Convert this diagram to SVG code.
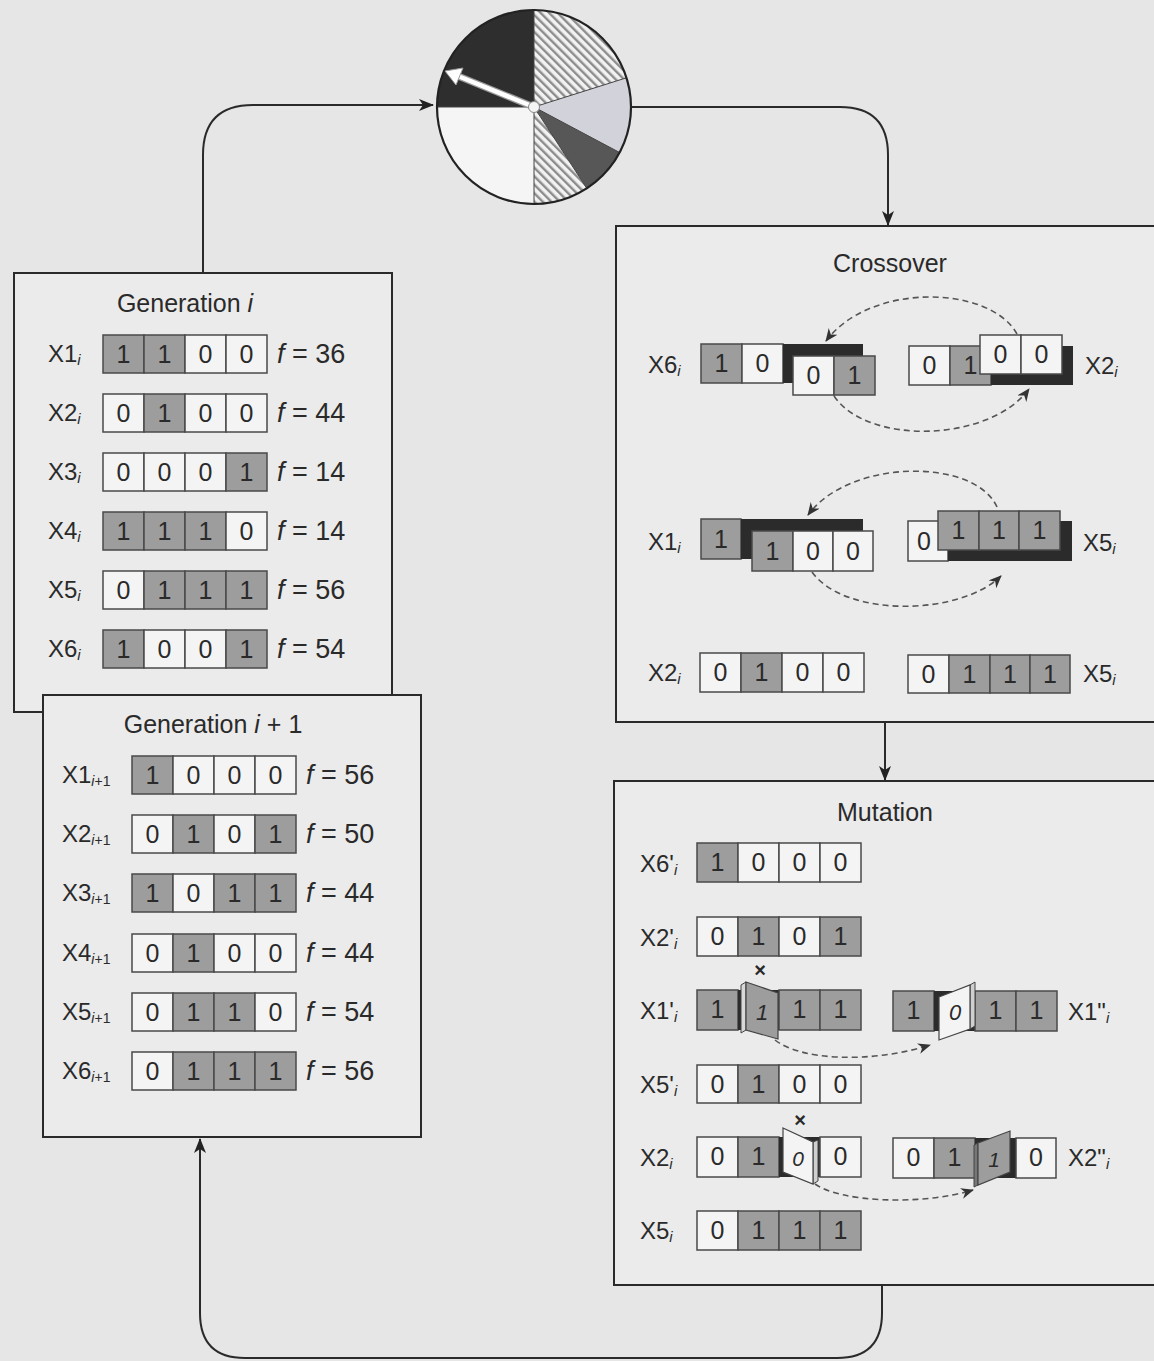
<svg xmlns="http://www.w3.org/2000/svg" width="1154" height="1361" viewBox="0 0 1154 1361">
<defs>
<pattern id="hatch" width="6" height="6" patternUnits="userSpaceOnUse" patternTransform="rotate(-45)">
<rect width="6" height="6" fill="#f2f2f2"/>
<rect width="2.4" height="6" fill="#8c8c8c"/>
</pattern>
<marker id="ah" markerUnits="userSpaceOnUse" markerWidth="16" markerHeight="12" refX="14" refY="6" orient="auto">
<path d="M0,0 L15,6 L0,12 L4,6 Z" fill="#222"/>
</marker>
<marker id="dh" markerUnits="userSpaceOnUse" markerWidth="14" markerHeight="11" refX="12" refY="5.5" orient="auto">
<path d="M0,0 L13,5.5 L0,11 L4,5.5 Z" fill="#333"/>
</marker>
</defs>
<style>
.box{fill:#ebebeb;stroke:#2a2a2a;stroke-width:2}
.g{fill:#9d9d9d;stroke:#4a4a4a;stroke-width:1.5}
.w{fill:#f4f4f4;stroke:#4a4a4a;stroke-width:1.5}
.k{fill:#2b2b2b}
text{font-family:"Liberation Sans",Arial,sans-serif;fill:#2a2a2a}
.d{font-size:25px;text-anchor:middle}
.lbl{font-size:24px}
.sub{font-size:15px;font-style:italic}
.s2{font-size:14px}
.f{font-size:27px}
.t{font-size:25px;text-anchor:middle}
.x{font-size:20px;font-weight:bold;text-anchor:middle}
.con{fill:none;stroke:#2a2a2a;stroke-width:2}
.dash{fill:none;stroke:#555;stroke-width:1.6;stroke-dasharray:6 4}
</style>
<rect width="1154" height="1361" fill="#e6e6e6"/>

<g id="connectors">
<path class="con" d="M203,273 L203,155 Q203,105 253,105 L433,105" marker-end="url(#ah)"/>
<path class="con" d="M631,107 L840,107 Q888,107 888,155 L888,225" marker-end="url(#ah)"/>
<path class="con" d="M885,722 L885,780" marker-end="url(#ah)"/>
<path class="con" d="M882,1285 L882,1313 Q882,1358 837,1358 L245,1358 Q200,1358 200,1313 L200,1139" marker-end="url(#ah)"/>
</g>

<g id="wheel">
<path d="M534,107 L437,107 A97,97 0 0 1 534,10 Z" fill="#2e2e2e"/>
<path d="M534,107 L534,10 A97,97 0 0 1 626.5,77.8 Z" fill="url(#hatch)"/>
<path d="M534,107 L626.5,77.8 A97,97 0 0 1 619.6,152.5 Z" fill="#d2d2da"/>
<path d="M534,107 L619.6,152.5 A97,97 0 0 1 586.8,188.4 Z" fill="#575757"/>
<path d="M534,107 L586.8,188.4 A97,97 0 0 1 534,204 Z" fill="url(#hatch)"/>
<path d="M534,107 L534,204 A97,97 0 0 1 437,107 Z" fill="#f5f5f5"/>
<path d="M534,107 L437,107 M534,107 L534,10 M534,107 L626.5,77.8 M534,107 L619.6,152.5 M534,107 L586.8,188.4 M534,107 L534,204" stroke="#444" stroke-width="1"/>
<circle cx="534" cy="107" r="97" fill="none" stroke="#222" stroke-width="2.2"/>
<line x1="534" y1="107" x2="458" y2="76" stroke="#9a9a9a" stroke-width="7"/>
<line x1="534" y1="107" x2="458" y2="76" stroke="#fff" stroke-width="4.5"/>
<polygon points="445,71 463,68 456,85" fill="#fff" stroke="#999" stroke-width="1"/>
<circle cx="534" cy="107" r="5.5" fill="#f4f4f4" stroke="#888" stroke-width="1"/>
</g>

<g id="gen-i">
<rect class="box" x="14" y="273" width="378" height="439"/>
<text class="t" x="185" y="312">Generation <tspan font-style="italic">i</tspan></text>
<g>
<text class="lbl" x="48" y="362">X1<tspan class="sub" dy="3">i</tspan></text>
<rect class="g" x="103" y="335" width="41" height="38"/><rect class="g" x="144" y="335" width="41" height="38"/><rect class="w" x="185" y="335" width="41" height="38"/><rect class="w" x="226" y="335" width="41" height="38"/>
<text class="d" x="123.5" y="363">1</text><text class="d" x="164.5" y="363">1</text><text class="d" x="205.5" y="363">0</text><text class="d" x="246.5" y="363">0</text>
<text class="f" x="277" y="363"><tspan font-style="italic">f</tspan> = 36</text>
</g>
<g>
<text class="lbl" x="48" y="421">X2<tspan class="sub" dy="3">i</tspan></text>
<rect class="w" x="103" y="394" width="41" height="38"/><rect class="g" x="144" y="394" width="41" height="38"/><rect class="w" x="185" y="394" width="41" height="38"/><rect class="w" x="226" y="394" width="41" height="38"/>
<text class="d" x="123.5" y="422">0</text><text class="d" x="164.5" y="422">1</text><text class="d" x="205.5" y="422">0</text><text class="d" x="246.5" y="422">0</text>
<text class="f" x="277" y="422"><tspan font-style="italic">f</tspan> = 44</text>
</g>
<g>
<text class="lbl" x="48" y="480">X3<tspan class="sub" dy="3">i</tspan></text>
<rect class="w" x="103" y="453" width="41" height="38"/><rect class="w" x="144" y="453" width="41" height="38"/><rect class="w" x="185" y="453" width="41" height="38"/><rect class="g" x="226" y="453" width="41" height="38"/>
<text class="d" x="123.5" y="481">0</text><text class="d" x="164.5" y="481">0</text><text class="d" x="205.5" y="481">0</text><text class="d" x="246.5" y="481">1</text>
<text class="f" x="277" y="481"><tspan font-style="italic">f</tspan> = 14</text>
</g>
<g>
<text class="lbl" x="48" y="539">X4<tspan class="sub" dy="3">i</tspan></text>
<rect class="g" x="103" y="512" width="41" height="38"/><rect class="g" x="144" y="512" width="41" height="38"/><rect class="g" x="185" y="512" width="41" height="38"/><rect class="w" x="226" y="512" width="41" height="38"/>
<text class="d" x="123.5" y="540">1</text><text class="d" x="164.5" y="540">1</text><text class="d" x="205.5" y="540">1</text><text class="d" x="246.5" y="540">0</text>
<text class="f" x="277" y="540"><tspan font-style="italic">f</tspan> = 14</text>
</g>
<g>
<text class="lbl" x="48" y="598">X5<tspan class="sub" dy="3">i</tspan></text>
<rect class="w" x="103" y="571" width="41" height="38"/><rect class="g" x="144" y="571" width="41" height="38"/><rect class="g" x="185" y="571" width="41" height="38"/><rect class="g" x="226" y="571" width="41" height="38"/>
<text class="d" x="123.5" y="599">0</text><text class="d" x="164.5" y="599">1</text><text class="d" x="205.5" y="599">1</text><text class="d" x="246.5" y="599">1</text>
<text class="f" x="277" y="599"><tspan font-style="italic">f</tspan> = 56</text>
</g>
<g>
<text class="lbl" x="48" y="657">X6<tspan class="sub" dy="3">i</tspan></text>
<rect class="g" x="103" y="630" width="41" height="38"/><rect class="w" x="144" y="630" width="41" height="38"/><rect class="w" x="185" y="630" width="41" height="38"/><rect class="g" x="226" y="630" width="41" height="38"/>
<text class="d" x="123.5" y="658">1</text><text class="d" x="164.5" y="658">0</text><text class="d" x="205.5" y="658">0</text><text class="d" x="246.5" y="658">1</text>
<text class="f" x="277" y="658"><tspan font-style="italic">f</tspan> = 54</text>
</g>
</g>

<g id="gen-i-plus-1">
<rect class="box" x="43" y="695" width="378" height="442"/>
<text class="t" x="213" y="733">Generation <tspan font-style="italic">i</tspan> + 1</text>
<g>
<text class="lbl" x="62" y="783">X1<tspan class="s2" dy="3"><tspan font-style="italic">i</tspan>+1</tspan></text>
<rect class="g" x="132" y="756" width="41" height="38"/><rect class="w" x="173" y="756" width="41" height="38"/><rect class="w" x="214" y="756" width="41" height="38"/><rect class="w" x="255" y="756" width="41" height="38"/>
<text class="d" x="152.5" y="784">1</text><text class="d" x="193.5" y="784">0</text><text class="d" x="234.5" y="784">0</text><text class="d" x="275.5" y="784">0</text>
<text class="f" x="306" y="784"><tspan font-style="italic">f</tspan> = 56</text>
</g>
<g>
<text class="lbl" x="62" y="842">X2<tspan class="s2" dy="3"><tspan font-style="italic">i</tspan>+1</tspan></text>
<rect class="w" x="132" y="815" width="41" height="38"/><rect class="g" x="173" y="815" width="41" height="38"/><rect class="w" x="214" y="815" width="41" height="38"/><rect class="g" x="255" y="815" width="41" height="38"/>
<text class="d" x="152.5" y="843">0</text><text class="d" x="193.5" y="843">1</text><text class="d" x="234.5" y="843">0</text><text class="d" x="275.5" y="843">1</text>
<text class="f" x="306" y="843"><tspan font-style="italic">f</tspan> = 50</text>
</g>
<g>
<text class="lbl" x="62" y="901">X3<tspan class="s2" dy="3"><tspan font-style="italic">i</tspan>+1</tspan></text>
<rect class="g" x="132" y="874" width="41" height="38"/><rect class="w" x="173" y="874" width="41" height="38"/><rect class="g" x="214" y="874" width="41" height="38"/><rect class="g" x="255" y="874" width="41" height="38"/>
<text class="d" x="152.5" y="902">1</text><text class="d" x="193.5" y="902">0</text><text class="d" x="234.5" y="902">1</text><text class="d" x="275.5" y="902">1</text>
<text class="f" x="306" y="902"><tspan font-style="italic">f</tspan> = 44</text>
</g>
<g>
<text class="lbl" x="62" y="961">X4<tspan class="s2" dy="3"><tspan font-style="italic">i</tspan>+1</tspan></text>
<rect class="w" x="132" y="934" width="41" height="38"/><rect class="g" x="173" y="934" width="41" height="38"/><rect class="w" x="214" y="934" width="41" height="38"/><rect class="w" x="255" y="934" width="41" height="38"/>
<text class="d" x="152.5" y="962">0</text><text class="d" x="193.5" y="962">1</text><text class="d" x="234.5" y="962">0</text><text class="d" x="275.5" y="962">0</text>
<text class="f" x="306" y="962"><tspan font-style="italic">f</tspan> = 44</text>
</g>
<g>
<text class="lbl" x="62" y="1020">X5<tspan class="s2" dy="3"><tspan font-style="italic">i</tspan>+1</tspan></text>
<rect class="w" x="132" y="993" width="41" height="38"/><rect class="g" x="173" y="993" width="41" height="38"/><rect class="g" x="214" y="993" width="41" height="38"/><rect class="w" x="255" y="993" width="41" height="38"/>
<text class="d" x="152.5" y="1021">0</text><text class="d" x="193.5" y="1021">1</text><text class="d" x="234.5" y="1021">1</text><text class="d" x="275.5" y="1021">0</text>
<text class="f" x="306" y="1021"><tspan font-style="italic">f</tspan> = 54</text>
</g>
<g>
<text class="lbl" x="62" y="1079">X6<tspan class="s2" dy="3"><tspan font-style="italic">i</tspan>+1</tspan></text>
<rect class="w" x="132" y="1052" width="41" height="38"/><rect class="g" x="173" y="1052" width="41" height="38"/><rect class="g" x="214" y="1052" width="41" height="38"/><rect class="g" x="255" y="1052" width="41" height="38"/>
<text class="d" x="152.5" y="1080">0</text><text class="d" x="193.5" y="1080">1</text><text class="d" x="234.5" y="1080">1</text><text class="d" x="275.5" y="1080">1</text>
<text class="f" x="306" y="1080"><tspan font-style="italic">f</tspan> = 56</text>
</g>
</g>

<g id="crossover">
<rect class="box" x="616" y="226" width="550" height="496"/>
<text class="t" x="890" y="272">Crossover</text>
<text class="lbl" x="648" y="373">X6<tspan class="sub" dy="3">i</tspan></text>
<rect class="g" x="701" y="344" width="41" height="39"/><rect class="w" x="742" y="344" width="41" height="39"/>
<rect class="k" x="783" y="344" width="80" height="39"/>
<rect class="w" x="793" y="356" width="41" height="39"/><rect class="g" x="834" y="356" width="41" height="39"/>
<text class="d" x="721.5" y="372">1</text><text class="d" x="762.5" y="372">0</text><text class="d" x="813.5" y="384">0</text><text class="d" x="854.5" y="384">1</text>
<rect class="w" x="909" y="346" width="41" height="39"/><rect class="g" x="950" y="346" width="41" height="39"/>
<rect class="k" x="991" y="346" width="82" height="39"/>
<rect class="w" x="980" y="335" width="41" height="39"/><rect class="w" x="1021" y="335" width="41" height="39"/>
<text class="d" x="929.5" y="374">0</text><text class="d" x="970.5" y="374">1</text><text class="d" x="1000.5" y="363">0</text><text class="d" x="1041.5" y="363">0</text>
<text class="lbl" x="1085" y="374">X2<tspan class="sub" dy="3">i</tspan></text>
<path class="dash" d="M1017,334 C990,285 870,282 826,341" marker-end="url(#dh)"/>
<path class="dash" d="M834,396 C868,446 990,442 1029,389" marker-end="url(#dh)"/>
<text class="lbl" x="648" y="550">X1<tspan class="sub" dy="3">i</tspan></text>
<rect class="g" x="701" y="519" width="40" height="40"/>
<rect class="k" x="741" y="519" width="122" height="40"/>
<rect class="g" x="752" y="531" width="41" height="40"/><rect class="w" x="793" y="531" width="40" height="40"/><rect class="w" x="833" y="531" width="40" height="40"/>
<text class="d" x="721" y="548">1</text><text class="d" x="772.5" y="560">1</text><text class="d" x="813" y="560">0</text><text class="d" x="853" y="560">0</text>
<rect class="w" x="908" y="521" width="40" height="40"/>
<rect class="k" x="948" y="521" width="124" height="40"/>
<rect class="g" x="938" y="511" width="41" height="39"/><rect class="g" x="979" y="511" width="40" height="39"/><rect class="g" x="1019" y="511" width="41" height="39"/>
<text class="d" x="924" y="550">0</text><text class="d" x="958.5" y="539">1</text><text class="d" x="999" y="539">1</text><text class="d" x="1039.5" y="539">1</text>
<text class="lbl" x="1083" y="551">X5<tspan class="sub" dy="3">i</tspan></text>
<path class="dash" d="M997,507 C975,458 850,458 808,515" marker-end="url(#dh)"/>
<path class="dash" d="M812,572 C845,618 960,616 1001,576" marker-end="url(#dh)"/>
<text class="lbl" x="648" y="681">X2<tspan class="sub" dy="3">i</tspan></text>
<rect class="w" x="700" y="653" width="41" height="39"/><rect class="g" x="741" y="653" width="41" height="39"/><rect class="w" x="782" y="653" width="41" height="39"/><rect class="w" x="823" y="653" width="41" height="39"/>
<text class="d" x="720.5" y="681">0</text><text class="d" x="761.5" y="681">1</text><text class="d" x="802.5" y="681">0</text><text class="d" x="843.5" y="681">0</text>
<rect class="w" x="908" y="655" width="41" height="38"/><rect class="g" x="949" y="655" width="41" height="38"/><rect class="g" x="990" y="655" width="40" height="38"/><rect class="g" x="1030" y="655" width="40" height="38"/>
<text class="d" x="928.5" y="683">0</text><text class="d" x="969.5" y="683">1</text><text class="d" x="1010" y="683">1</text><text class="d" x="1050" y="683">1</text>
<text class="lbl" x="1083" y="682">X5<tspan class="sub" dy="3">i</tspan></text>
</g>

<g id="mutation">
<rect class="box" x="614" y="781" width="550" height="504"/>
<text class="t" x="885" y="821">Mutation</text>
<text class="lbl" x="640" y="872">X6'<tspan class="sub" dy="3">i</tspan></text>
<rect class="g" x="697" y="843" width="41" height="39"/><rect class="w" x="738" y="843" width="41" height="39"/><rect class="w" x="779" y="843" width="41" height="39"/><rect class="w" x="820" y="843" width="41" height="39"/>
<text class="d" x="717.5" y="871">1</text><text class="d" x="758.5" y="871">0</text><text class="d" x="799.5" y="871">0</text><text class="d" x="840.5" y="871">0</text>
<text class="lbl" x="640" y="946">X2'<tspan class="sub" dy="3">i</tspan></text>
<rect class="w" x="697" y="917" width="41" height="39"/><rect class="g" x="738" y="917" width="41" height="39"/><rect class="w" x="779" y="917" width="41" height="39"/><rect class="g" x="820" y="917" width="41" height="39"/>
<text class="d" x="717.5" y="945">0</text><text class="d" x="758.5" y="945">1</text><text class="d" x="799.5" y="945">0</text><text class="d" x="840.5" y="945">1</text>
<text class="lbl" x="640" y="1019">X1'<tspan class="sub" dy="3">i</tspan></text>
<rect class="g" x="697" y="990" width="41" height="40"/><rect class="k" x="738" y="990" width="41" height="40"/><rect class="g" x="779" y="990" width="41" height="40"/><rect class="g" x="820" y="990" width="41" height="40"/>
<polygon points="741,985 746,982 746,1030 741,1033" fill="#d8d8d8" stroke="#444" stroke-width="1"/>
<polygon points="746,982 778,993 778,1039 746,1030" fill="#9d9d9d" stroke="#444" stroke-width="1.2"/>
<text class="d" x="717.5" y="1018">1</text><text x="762" y="1020" font-size="22" text-anchor="middle" font-style="italic" fill="#555">1</text><text class="d" x="799.5" y="1018">1</text><text class="d" x="840.5" y="1018">1</text>
<text class="x" x="760" y="977">×</text>
<rect class="g" x="893" y="991" width="41" height="40"/><rect class="k" x="934" y="991" width="41" height="40"/><rect class="g" x="975" y="991" width="41" height="40"/><rect class="g" x="1016" y="991" width="41" height="40"/>
<polygon points="970,985 975,982 975,1026 970,1029" fill="#cfcfcf" stroke="#444" stroke-width="1"/>
<polygon points="939,997 970,985 970,1029 939,1040" fill="#f4f4f4" stroke="#444" stroke-width="1.2"/>
<text class="d" x="913.5" y="1019">1</text><text x="955" y="1020" font-size="22" text-anchor="middle" font-style="italic" fill="#555">0</text><text class="d" x="995.5" y="1019">1</text><text class="d" x="1036.5" y="1019">1</text>
<text class="lbl" x="1068" y="1020">X1"<tspan class="sub" dy="3">i</tspan></text>
<path class="dash" d="M775,1040 C800,1060 870,1064 930,1045" marker-end="url(#dh)"/>
<text class="lbl" x="640" y="1093">X5'<tspan class="sub" dy="3">i</tspan></text>
<rect class="w" x="697" y="1065" width="41" height="38"/><rect class="g" x="738" y="1065" width="41" height="38"/><rect class="w" x="779" y="1065" width="41" height="38"/><rect class="w" x="820" y="1065" width="41" height="38"/>
<text class="d" x="717.5" y="1093">0</text><text class="d" x="758.5" y="1093">1</text><text class="d" x="799.5" y="1093">0</text><text class="d" x="840.5" y="1093">0</text>
<text class="lbl" x="640" y="1166">X2<tspan class="sub" dy="3">i</tspan></text>
<rect class="w" x="697" y="1137" width="41" height="40"/><rect class="g" x="738" y="1137" width="41" height="40"/><rect class="k" x="779" y="1137" width="41" height="40"/><rect class="w" x="820" y="1137" width="41" height="40"/>
<polygon points="813,1142 818,1140 818,1181 813,1184" fill="#cfcfcf" stroke="#444" stroke-width="1"/>
<polygon points="783,1128 813,1142 813,1184 783,1172" fill="#f4f4f4" stroke="#444" stroke-width="1.2"/>
<text class="d" x="717.5" y="1165">0</text><text class="d" x="758.5" y="1165">1</text><text x="798" y="1166" font-size="21" text-anchor="middle" font-style="italic" fill="#555">0</text><text class="d" x="840.5" y="1165">0</text>
<text class="x" x="800" y="1127">×</text>
<rect class="w" x="893" y="1138" width="41" height="40"/><rect class="g" x="934" y="1138" width="41" height="40"/><rect class="k" x="975" y="1138" width="41" height="40"/><rect class="w" x="1016" y="1138" width="40" height="40"/>
<polygon points="974,1145 978,1143 978,1185 974,1187" fill="#777" stroke="#444" stroke-width="1"/>
<polygon points="978,1143 1010,1131 1010,1172 978,1185" fill="#9d9d9d" stroke="#444" stroke-width="1.2"/>
<text class="d" x="913.5" y="1166">0</text><text class="d" x="954.5" y="1166">1</text><text x="994" y="1167" font-size="21" text-anchor="middle" font-style="italic" fill="#333">1</text><text class="d" x="1036" y="1166">0</text>
<text class="lbl" x="1068" y="1166">X2"<tspan class="sub" dy="3">i</tspan></text>
<path class="dash" d="M815,1184 C840,1202 920,1206 973,1190" marker-end="url(#dh)"/>
<text class="lbl" x="640" y="1239">X5<tspan class="sub" dy="3">i</tspan></text>
<rect class="w" x="697" y="1211" width="41" height="39"/><rect class="g" x="738" y="1211" width="41" height="39"/><rect class="g" x="779" y="1211" width="41" height="39"/><rect class="g" x="820" y="1211" width="41" height="39"/>
<text class="d" x="717.5" y="1239">0</text><text class="d" x="758.5" y="1239">1</text><text class="d" x="799.5" y="1239">1</text><text class="d" x="840.5" y="1239">1</text>
</g>
</svg>
